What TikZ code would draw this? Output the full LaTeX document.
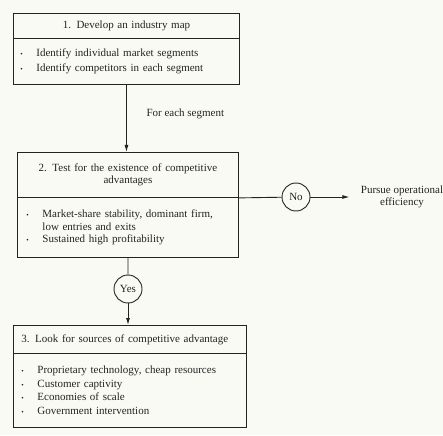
\documentclass[tikz,border=0pt]{standalone}
\usepackage{fontspec}
\setmainfont{Liberation Serif}
\usetikzlibrary{arrows.meta,positioning}
\definecolor{paper}{RGB}{250,250,245}
\definecolor{ink}{RGB}{35,35,35}
\newcommand{\FT}{\fontsize{11}{12.5}\selectfont}
\newcommand{\bul}{\makebox[16pt][l]{{\scriptsize\textbullet}}}
\newcommand{\nobul}{\makebox[16pt]{}}

\begin{document}
\begin{tikzpicture}[x=1pt,y=-1pt]
\tikzstyle{head}=[draw=ink,line width=0.9pt,anchor=north west,inner xsep=8pt,inner ysep=0pt,font=\FT,text=ink]
\tikzstyle{body}=[draw=ink,line width=0.9pt,anchor=north west,inner xsep=7pt,inner ysep=0pt,font=\FT,text=ink,align=left]
\tikzstyle{ring}=[draw=ink,line width=0.9pt,circle,minimum size=28pt,inner sep=0pt,font=\FT,text=ink]
\tikzstyle{texto}=[draw=none,fill=none,font=\FT,text=ink]
\tikzstyle{link}=[ink,line width=0.9pt]
\tikzstyle{arr}=[ink,line width=0.9pt,-{Latex[length=7pt,width=4pt]}]

\fill[paper] (0,0) rectangle (443,435);
\useasboundingbox (0,0) rectangle (443,435);

\node[head,minimum width=226pt,minimum height=25pt,text width=210pt,align=center] (head1) at (13,13)
  {1. Develop an industry map};
\node[body,minimum width=226pt,minimum height=46pt,text width=212pt] (body1) at (13,38)
  {\bul Identify individual market segments\\[2.5pt]
   \bul Identify competitors in each segment};

\node[head,minimum width=221pt,minimum height=45pt,text width=205pt,align=center] (head2) at (17,152)
  {2. Test for the existence of competitive\\[-1pt] advantages};
\node[body,minimum width=221pt,minimum height=60pt,text width=203pt,inner xsep=9pt] (body2) at (17,197)
  {\bul Market-share stability, dominant firm,\\
   \nobul low entries and exits\\
   \bul Sustained high profitability};

\node[head,minimum width=233pt,minimum height=28pt,text width=217pt,align=left] (head3) at (13,325)
  {3. Look for sources of competitive advantage};
\node[body,minimum width=233pt,minimum height=74pt,text width=217pt,inner xsep=8pt] (body3) at (13,353)
  {\bul Proprietary technology, cheap resources\\[1pt]
   \bul Customer captivity\\[1pt]
   \bul Economies of scale\\[1pt]
   \bul Government intervention};

\node[ring] (no) at (296,197) {No};
\node[ring] (yes) at (128,289) {Yes};
\node[texto,align=center] (goal) at (402,197) {Pursue operational\\efficiency};
\node[texto,anchor=west] (seg) at (143,114) {For each segment};

\draw[arr] (body1.south) -- (body1.south |- head2.north);
\draw[link] (head2.south east) -- (no);
\draw[arr,shorten >=8pt] (no) -- (goal.west);
\draw[link] (body2.south) -- (yes);
\draw[arr] (yes) -- (yes |- head3.north);
\end{tikzpicture}
\end{document}
